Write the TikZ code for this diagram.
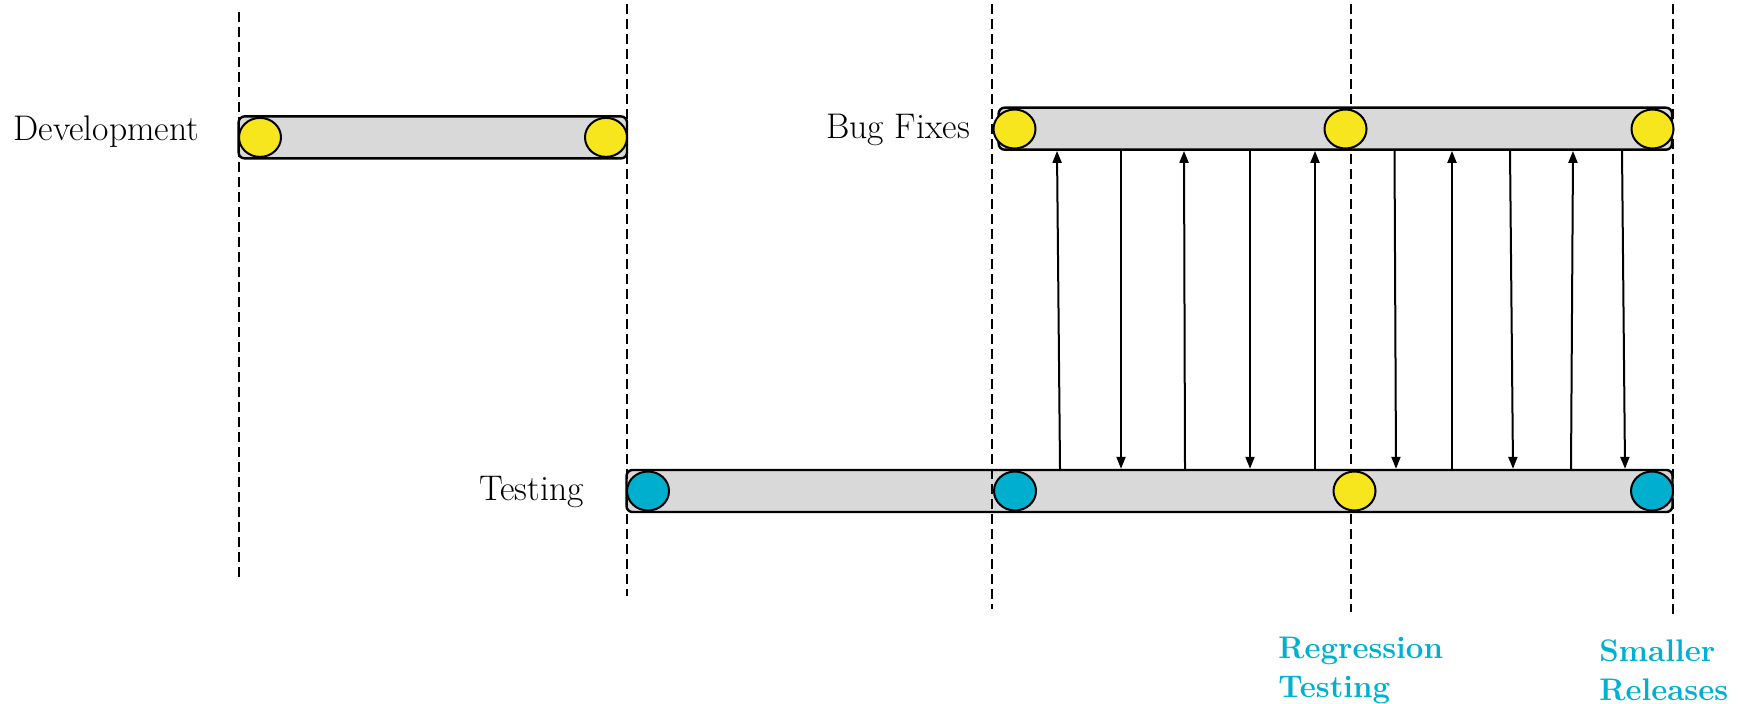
\documentclass[tikz,border=0pt]{standalone}
\usepackage{fontspec}
\usetikzlibrary{shapes.geometric,arrows.meta}

\definecolor{barfill}{RGB}{217,217,217}
\definecolor{dotyellow}{RGB}{247,229,30}
\definecolor{dotcyan}{RGB}{0,174,206}
\definecolor{labelcyan}{RGB}{0,176,208}

\begin{document}
\begin{tikzpicture}[x=0.5pt,y=-0.5pt,
  guide/.style={draw=black, line width=1pt, dash pattern=on 5pt off 2.5pt},
  bar/.style={draw=black, line width=1.2pt, fill=barfill, rounded corners=3pt,
    inner sep=0pt, minimum height=21pt},
  dot/.style={ellipse, draw=black, line width=1pt, inner sep=0pt,
    minimum width=21pt, minimum height=19.5pt},
  ydot/.style={dot, fill=dotyellow},
  cdot/.style={dot, fill=dotcyan},
  phase/.style={font=\fontsize{17.8}{21}\selectfont, inner sep=0pt, anchor=base west},
  note/.style={font=\fontsize{15.6}{19.5}\selectfont\bfseries, text=labelcyan,
    align=left, inner sep=0pt, anchor=base west},
  flow/.style={line width=1pt, -{Triangle[length=6pt,width=4.5pt]}}
]
\useasboundingbox (0,0) rectangle (1738,704);

% phase bars
\node[bar, minimum width=194.2pt] (dev)  at (432.8,137.4) {};
\node[bar, minimum width=336.7pt] (bug)  at (1335.3,128.7) {};
\node[bar, minimum width=523pt]   (test) at (1149.5,491) {};

% milestone guides
\draw[guide] (239,12)   -- (239,580);
\draw[guide] (626.5,4)  -- (626.5,596);
\draw[guide] (992,4)    -- (992,609);
\draw[guide] (1350.5,4) -- (1350.5,612);
\draw[guide] (1672.5,4) -- (1672.5,615);

% milestones on the bars
\node[ydot] (d1) at (260,137.4) {};
\node[ydot] (d2) at (606,137.4) {};
\node[ydot] (b1) at (1014.5,129) {};
\node[ydot] (b2) at (1345.5,129) {};
\node[ydot] (b3) at (1652.5,129) {};
\node[cdot] (t1) at (648,491) {};
\node[cdot] (t2) at (1015,491) {};
\node[ydot] (t3) at (1354.5,491) {};
\node[cdot] (t4) at (1652,491) {};

% phase names
\node[phase] (ldev)  at (13,141)   {Development};
\node[phase] (lbug)  at (826,138.5) {Bug Fixes};
\node[phase] (ltest) at (479,501)  {Testing};

% defects reported from testing to bug fixing
\foreach \b/\t [count=\i] in {1060/1057,1185/1184,1315/1315,1452/1452,1571/1573}{
  \coordinate (ub\i) at (\b,0);
  \coordinate (ut\i) at (\t,0);
  \draw[flow] (test.north -| ub\i) -- (bug.south -| ut\i);
}
% fixes handed back to testing
\foreach \t/\b [count=\i] in {1121/1121,1250/1250,1394.5/1396,1510/1513,1622/1625}{
  \coordinate (dt\i) at (\t,0);
  \coordinate (db\i) at (\b,0);
  \draw[flow] (bug.south -| dt\i) -- (test.north -| db\i);
}

% notes (anchored on the baseline of their last line)
\node[note] (nreg) at (1278,697) {Regression\\Testing};
\node[note] (nrel) at (1599,700) {Smaller\\Releases};
\end{tikzpicture}
\end{document}
